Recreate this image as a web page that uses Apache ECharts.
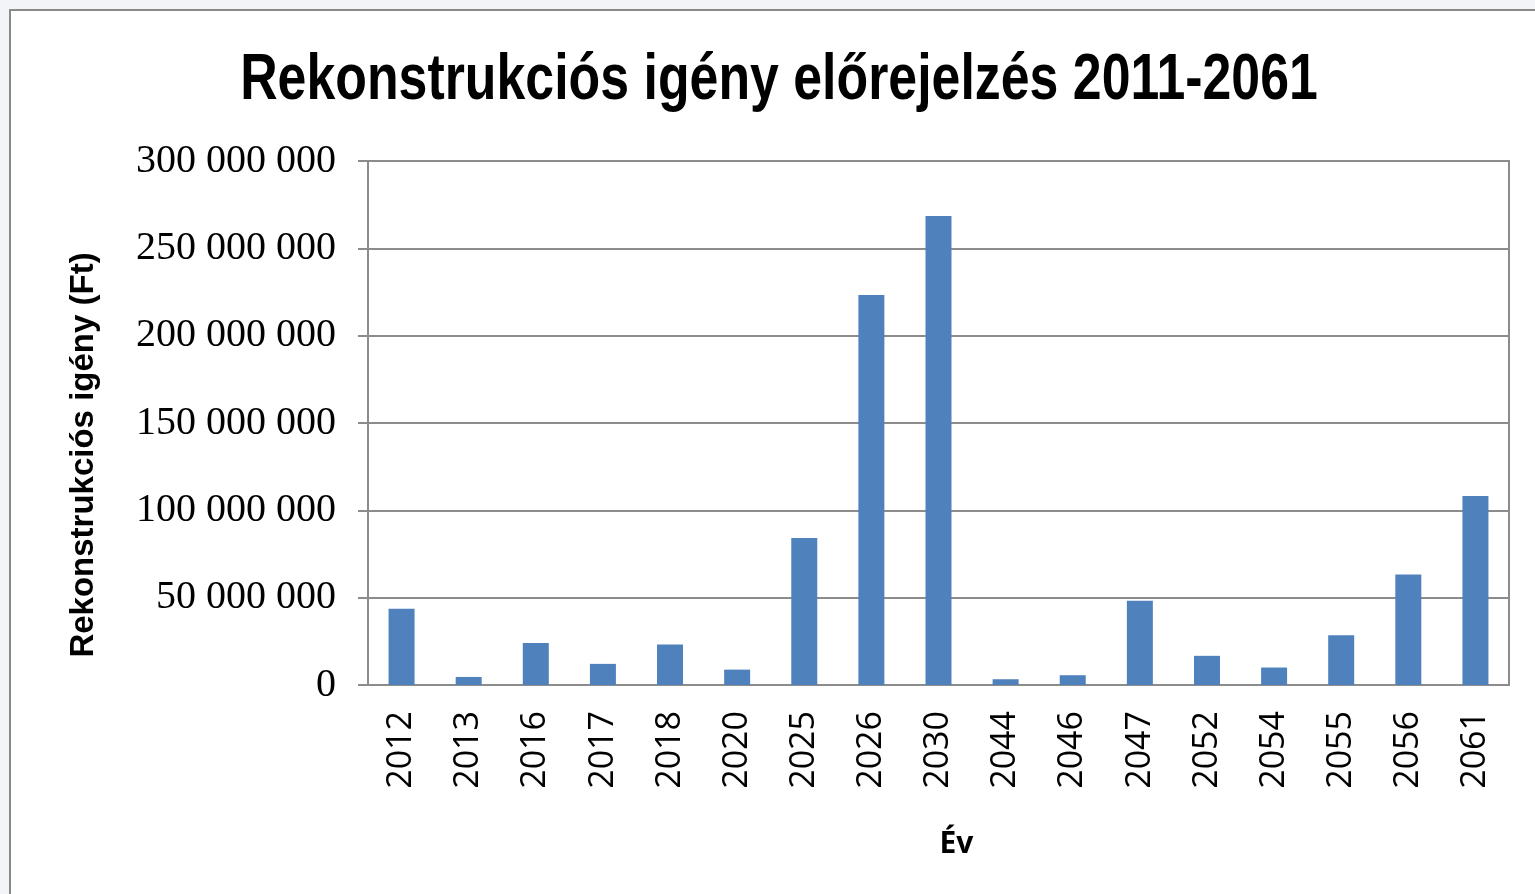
<!DOCTYPE html>
<html>
<head>
<meta charset="utf-8">
<title>Rekonstrukciós igény előrejelzés 2011-2061</title>
<script src="https://cdn.jsdelivr.net/npm/echarts@6/dist/echarts.min.js"></script>
<style>
  html, body { margin: 0; padding: 0; background: #f2f4f7; }
  #chart { width: 1535px; height: 894px; }
</style>
</head>
<body>
<div id="chart"></div>
<script>
// years on the category axis
var years = ['2012', '2013', '2016', '2017', '2018', '2020', '2025', '2026', '2030',
             '2044', '2046', '2047', '2052', '2054', '2055', '2056', '2061'];
// reconstruction demand in Ft
var demand = [43700000, 4600000, 24100000, 12100000, 23200000, 8800000, 84100000, 223300000, 268500000,
              3300000, 5600000, 48300000, 16700000, 10000000, 28500000, 63200000, 108200000];
// y axis ticks
var yTicks = [0, 50000000, 100000000, 150000000, 200000000, 250000000, 300000000];

// 300000000 -> "300 000 000"
function spaced(v) {
    return String(v).replace(/\B(?=(\d{3})+(?!\d))/g, ' ');
}

var myChart = echarts.init(document.getElementById('chart'));

var option = {
    animation: false,
    backgroundColor: 'transparent',
    graphic: [{
        type: 'rect',
        z: -10,
        shape: { x: 10, y: 10, width: 1600, height: 1000 },
        style: { fill: '#ffffff', stroke: '#8a8a8a', lineWidth: 2 }
    }, {
        // title, squeezed like a narrow font
        type: 'text',
        x: 779,
        y: 81,
        scaleX: 0.81,
        style: {
            text: 'Rekonstrukciós igény előrejelzés 2011-2061',
            align: 'center',
            verticalAlign: 'middle',
            font: "bold 64px 'Liberation Sans', Arial, sans-serif",
            fill: '#000'
        }
    }],
    grid: {
        left: 368,
        right: 26,
        top: 161,
        bottom: 209,
        show: true,
        borderColor: '#8c8c8c',
        borderWidth: 2
    },
    xAxis: {
        type: 'category',
        data: years,
        name: 'Év',
        nameLocation: 'middle',
        nameGap: 144,
        nameTextStyle: {
            fontFamily: "'Open Sans', sans-serif",
            fontWeight: 'bold',
            fontSize: 30,
            color: '#000',
            padding: [0, 0, 0, 36]
        },
        axisLine: { lineStyle: { color: '#8c8c8c', width: 2 } },
        axisTick: { show: false },
        axisLabel: {
            rotate: 90,
            margin: 26,
            fontFamily: "'Open Sans', sans-serif",
            fontSize: 34,
            color: '#000'
        }
    },
    yAxis: {
        type: 'value',
        min: yTicks[0],
        max: yTicks[yTicks.length - 1],
        interval: yTicks[1] - yTicks[0],
        name: 'Rekonstrukciós igény (Ft)',
        nameLocation: 'middle',
        nameGap: 268,
        nameTextStyle: {
            fontFamily: "'Liberation Sans', Arial, sans-serif",
            fontWeight: 'bold',
            fontSize: 33,
            color: '#000',
            padding: [0, 64, 0, 0]
        },
        axisLine: { show: true, lineStyle: { color: '#8c8c8c', width: 2 } },
        axisTick: { show: true, length: 10, lineStyle: { color: '#8c8c8c', width: 2 } },
        splitLine: { lineStyle: { color: '#8c8c8c', width: 2 } },
        axisLabel: {
            margin: 32,
            fontFamily: "'Liberation Serif', 'Times New Roman', serif",
            fontSize: 40,
            color: '#000',
            formatter: spaced
        }
    },
    series: [{
        type: 'bar',
        data: demand,
        barWidth: 26,
        itemStyle: { color: '#4f81bd' }
    }]
};

myChart.setOption(option);
</script>
</body>
</html>
